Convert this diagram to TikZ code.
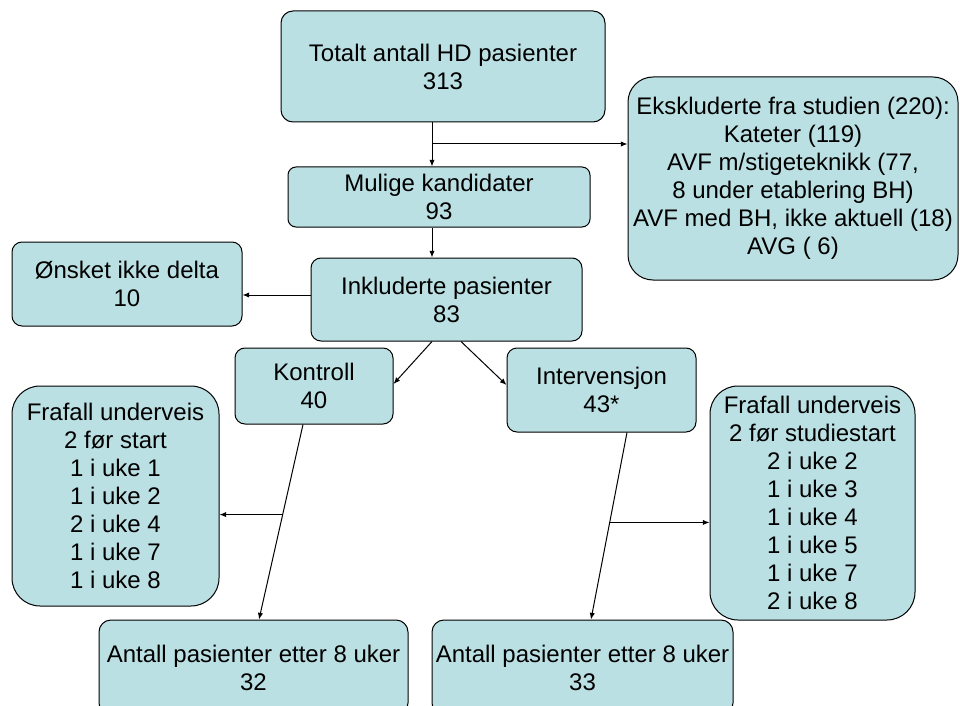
\documentclass[tikz,border=0pt]{standalone}
\usepackage{fontspec}
\setmainfont{Liberation Sans}
\usetikzlibrary{arrows.meta}
\definecolor{boxfill}{HTML}{BBE0E3}
\newlength\pxu
\setlength\pxu{0.75pt}
\tikzset{
  box/.style={draw, fill=boxfill, line width=0.75pt, align=center, inner sep=0pt,
    font=\fontsize{18}{21}\selectfont},
  link/.style={-{Latex[length=5pt,width=4pt]}, line width=0.75pt},
}

\begin{document}
\begin{tikzpicture}[x=0.75pt, y=-0.75pt]
	\useasboundingbox (0,0) rectangle (960,706);
	% boxes
	\node[box, minimum width=324\pxu, minimum height=111\pxu, rounded corners=12\pxu] (total) at (443,66.5) {Totalt antall HD pasienter\\313};
	\node[box, minimum width=330\pxu, minimum height=203\pxu, rounded corners=25\pxu] (excl) at (793,178.5) {Ekskluderte fra studien (220):\\Kateter (119)\\AVF m/stigeteknikk (77,\\8 under etablering BH)\\AVF med BH, ikke aktuell (18)\\AVG ( 6)};
	\node[box, minimum width=302\pxu, minimum height=60\pxu, rounded corners=8\pxu] (mulige) at (439,197) {Mulige kandidater\\93};
	\node[box, minimum width=230\pxu, minimum height=84\pxu, rounded corners=10\pxu] (onsket) at (127,284) {Ønsket ikke delta\\10};
	\node[box, minimum width=271\pxu, minimum height=83\pxu, rounded corners=10\pxu] (inkl) at (446.5,299.5) {Inkluderte pasienter\\83};
	\node[box, minimum width=158\pxu, minimum height=76\pxu, rounded corners=10\pxu] (kontroll) at (314,386) {Kontroll\\40};
	\node[box, minimum width=189\pxu, minimum height=84\pxu, rounded corners=10\pxu] (interv) at (601.5,390) {Intervensjon\\43*};
	\node[box, minimum width=207\pxu, minimum height=220\pxu, rounded corners=28\pxu] (fraL) at (115.5,496) {Frafall underveis\\2 før start\\1 i uke 1\\1 i uke 2\\2 i uke 4\\1 i uke 7\\1 i uke 8};
	\node[box, minimum width=205\pxu, minimum height=234\pxu, rounded corners=28\pxu] (fraR) at (812.5,503) {Frafall underveis\\2 før studiestart\\2 i uke 2\\1 i uke 3\\1 i uke 4\\1 i uke 5\\1 i uke 7\\2 i uke 8};
	\node[box, minimum width=309\pxu, minimum height=95\pxu, rounded corners=12\pxu] (antL) at (253.5,667.5) {Antall pasienter etter 8 uker\\32};
	\node[box, minimum width=301\pxu, minimum height=95\pxu, rounded corners=12\pxu] (antR) at (582.5,667.5) {Antall pasienter etter 8 uker\\33};
	% connectors
	\coordinate (split) at (432,144);
	\draw[link] (split |- total.south) -- (split |- mulige.north);
	\draw[link] (split) -- (split -| excl.west);
	\draw[link] (split |- mulige.south) -- (split |- inkl.north);
	\draw[link] ([yshift=4.5\pxu]inkl.west) -- ([yshift=4.5\pxu]inkl.west -| onsket.east);
	\draw[link] (split |- inkl.south) -- ([yshift=2\pxu]kontroll.east);
	\draw[link] ([xshift=14.5\pxu]inkl.south) -- ([yshift=5\pxu]interv.west);
	\draw[link] ([xshift=-11\pxu]kontroll.south) -- ([xshift=5.5\pxu]antL.north) coordinate[pos=0.462] (kmid);
	\draw[link] (kmid) -- (kmid -| fraL.east);
	\draw[link] ([xshift=25.5\pxu]interv.south) -- ([xshift=8.5\pxu]antR.north) coordinate[pos=0.481] (imid);
	\draw[link] (imid) -- (imid -| fraR.west);
\end{tikzpicture}
\end{document}
